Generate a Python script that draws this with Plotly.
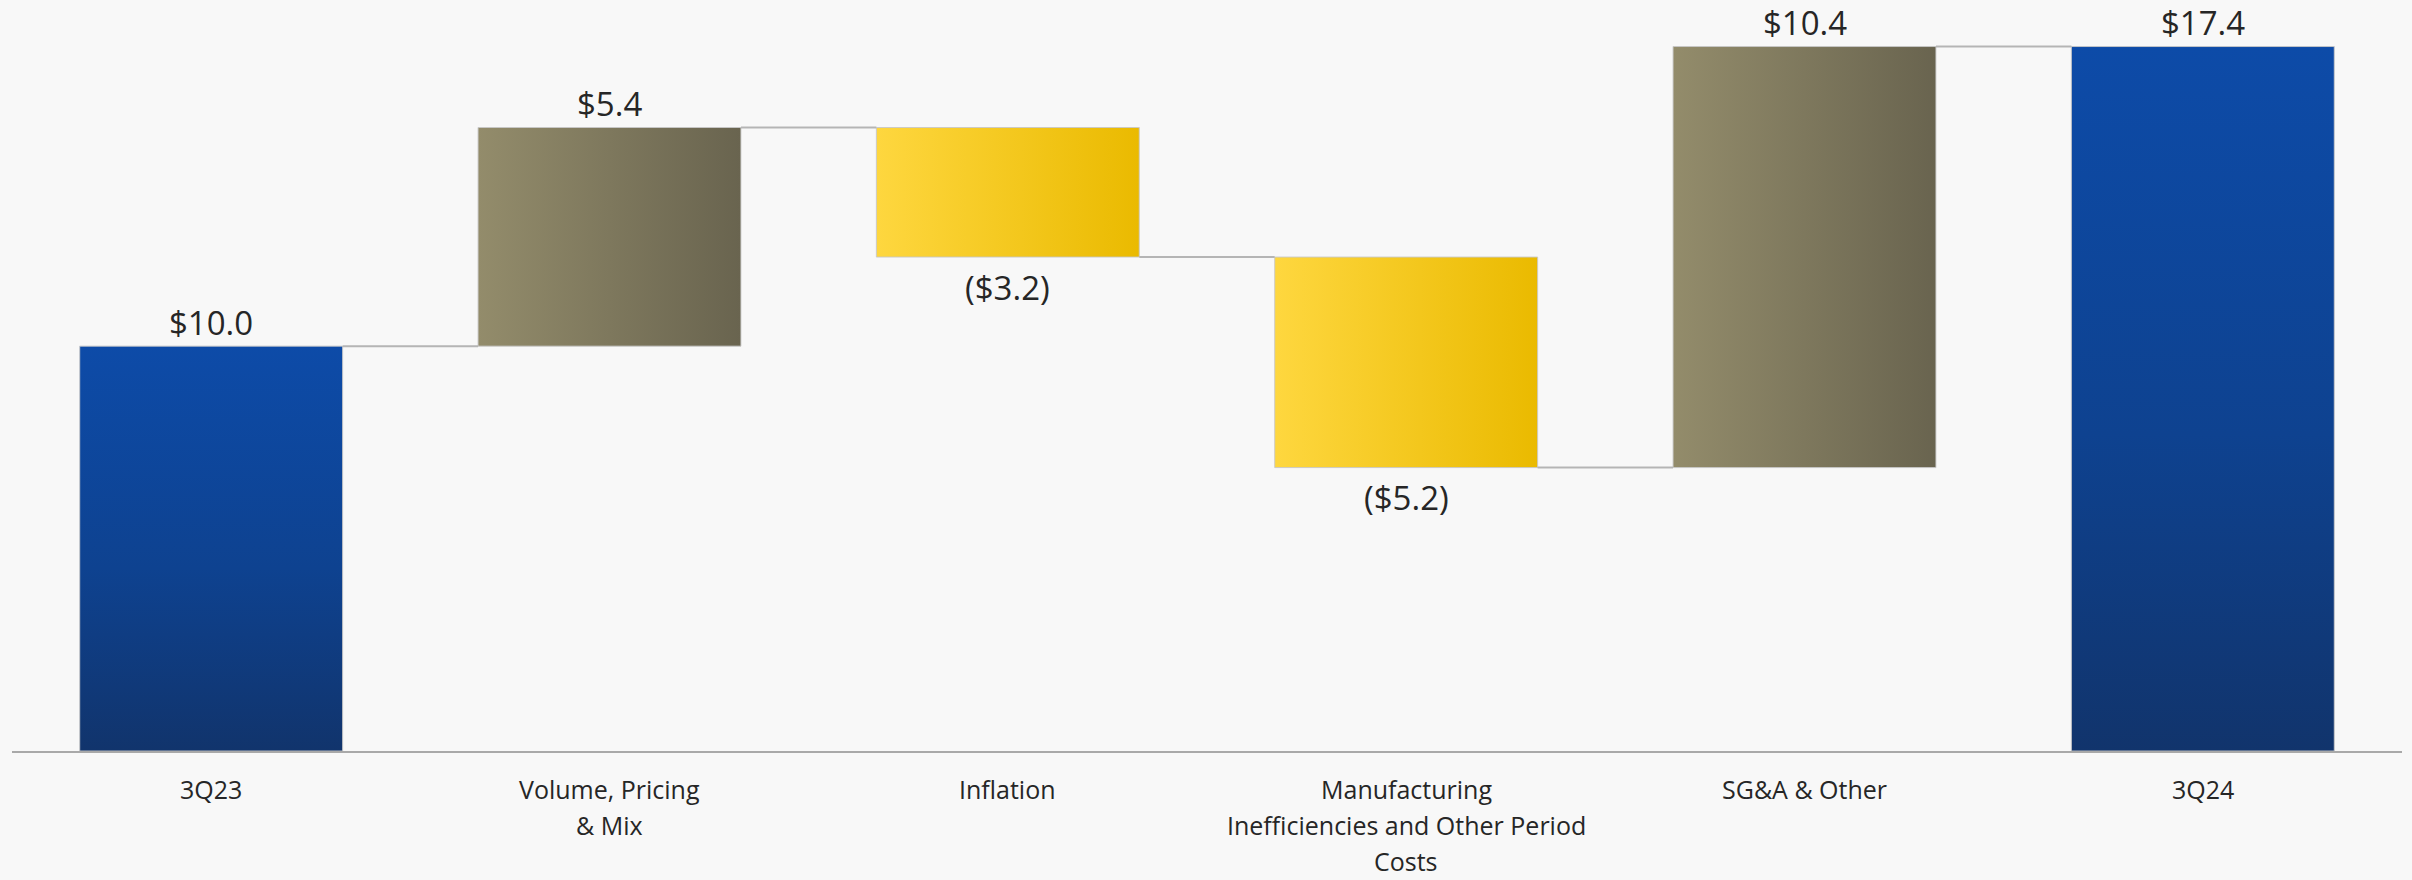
import plotly.graph_objects as go

# ---- data ----
categories = ["3Q23", "Volume, Pricing<br>& Mix", "Inflation",
              "Manufacturing<br>Inefficiencies and Other Period<br>Costs",
              "SG&A & Other", "3Q24"]
measures = ["absolute", "relative", "relative", "relative", "relative", "total"]
values = [10.0, 5.4, -3.2, -5.2, 10.4, 17.4]
value_labels = ["$10.0", "$5.4", "($3.2)", "($5.2)", "$10.4", "$17.4"]

# ---- style ----
BAR_W = 0.66
FONT = "Segoe UI, Open Sans, sans-serif"
TEXT_COLOR = "#262626"
grad = {
    "total": dict(type="vertical", colorscale=[[0, "#11346C"], [0.45, "#0E4290"], [1, "#0D4BA8"]]),
    "up": dict(type="horizontal", colorscale=[[0, "#938C6B"], [1, "#69644F"]]),
    "down": dict(type="horizontal", colorscale=[[0, "#FED73F"], [1, "#EABA00"]]),
}

# running totals
bases, tops, running = [], [], 0.0
for m, v in zip(measures, values):
    if m == "absolute":
        b, t = 0.0, v
        running = v
    elif m == "total":
        b, t = 0.0, running
    else:
        b, t = running, running + v
        running += v
    bases.append(b)
    tops.append(t)

fig = go.Figure()

for i, (m, v, b, t) in enumerate(zip(measures, values, bases, tops)):
    lo, hi = min(b, t), max(b, t)
    kind = "total" if m in ("absolute", "total") else ("up" if v > 0 else "down")
    x0, x1 = i - BAR_W / 2, i + BAR_W / 2
    fig.add_trace(go.Scatter(
        x=[x0, x1, x1, x0, x0], y=[lo, lo, hi, hi, lo],
        mode="lines", fill="toself",
        fillgradient=grad[kind],
        line=dict(color="rgba(200,200,200,0.9)", width=1),
        hoverinfo="skip", showlegend=False,
    ))

# connectors at the running total after each bar
for i in range(len(values) - 1):
    level = tops[i]
    fig.add_trace(go.Scatter(
        x=[i + BAR_W / 2, i + 1 - BAR_W / 2], y=[level, level],
        mode="lines", line=dict(color="#B5B5B5", width=2),
        hoverinfo="skip", showlegend=False,
    ))

annotations = []
# value labels
for i, (m, v, b, t, lab) in enumerate(zip(measures, values, bases, tops, value_labels)):
    if v >= 0:
        annotations.append(dict(x=i, y=max(b, t), xref="x", yref="y", text=lab,
                                showarrow=False, yanchor="middle", yshift=24,
                                font=dict(family=FONT, size=33, color=TEXT_COLOR)))
    else:
        annotations.append(dict(x=i, y=min(b, t), xref="x", yref="y", text=lab,
                                showarrow=False, yanchor="middle", yshift=-30,
                                font=dict(family=FONT, size=33, color=TEXT_COLOR)))

# category labels (one annotation per line for the wider line spacing)
LINE_GAP = 36
for i, cat in enumerate(categories):
    for j, line in enumerate(cat.split("<br>")):
        annotations.append(dict(x=i, y=0, xref="x", yref="paper", text=line,
                                showarrow=False, yanchor="middle",
                                yshift=-38 - j * LINE_GAP,
                                font=dict(family=FONT, size=25, color=TEXT_COLOR)))

fig.update_layout(
    width=2412, height=880,
    margin=dict(l=12, r=10, t=2, b=129),
    paper_bgcolor="#F8F8F8", plot_bgcolor="rgba(0,0,0,0)",
    showlegend=False,
    annotations=annotations,
    xaxis=dict(range=[-0.5, len(values) - 0.5], showgrid=False, zeroline=False,
               showline=True, linecolor="#A9A9A9", linewidth=2,
               tickvals=list(range(len(values))), ticktext=[""] * len(values),
               ticks="", fixedrange=True),
    yaxis=dict(range=[0, 18.5], visible=False, showgrid=False, zeroline=False,
               fixedrange=True),
)

fig.write_html("out.html")
